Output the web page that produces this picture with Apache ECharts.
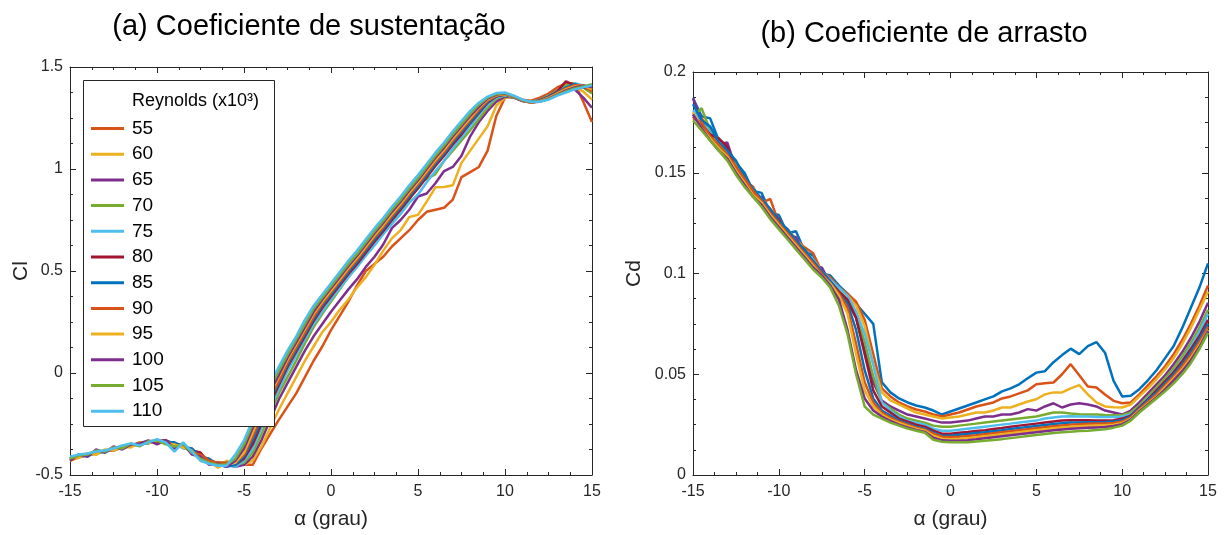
<!DOCTYPE html>
<html><head><meta charset="utf-8">
<script src="https://cdn.jsdelivr.net/npm/echarts@6/dist/echarts.min.js"></script>
<style>html,body{margin:0;padding:0;background:#fff}#c{width:1230px;height:535px}</style>
</head><body><div id="c"></div>
<script>
// angle of attack (deg)
const ALPHA = [-15,-14.5,-14,-13.5,-13,-12.5,-12,-11.5,-11,-10.5,-10,-9.5,-9,-8.5,-8,-7.5,-7,-6.5,-6,-5.5,-5,-4.5,-4,-3.5,-3,-2.5,-2,-1.5,-1,-0.5,0,0.5,1,1.5,2,2.5,3,3.5,4,4.5,5,5.5,6,6.5,7,7.5,8,8.5,9,9.5,10,10.5,11,11.5,12,12.5,13,13.5,14,14.5,15];
const X_TICKS = [-15,-10,-5,0,5,10,15];
const REYNOLDS = ['55','60','65','70','75','80','85','90','95','100','105','110'];

// Lift coefficient Cl
const CL_55 = [-0.42,-0.415,-0.40,-0.39,-0.385,-0.37,-0.365,-0.355,-0.35,-0.34,-0.335,-0.335,-0.345,-0.36,-0.38,-0.40,-0.43,-0.44,
 -0.44,-0.45,-0.45,-0.45,-0.37,-0.30,-0.23,
 -0.165,-0.10,-0.02,0.06,0.13,0.21,0.28,0.35,0.43,0.50,0.535,0.57,0.62,0.66,0.70,0.75,0.79,0.80,0.81,0.85,0.96,0.985,1.01,1.09,1.26,1.35,1.355,1.34,1.335,1.35,1.37,1.40,1.42,1.42,1.33,1.23];
const CL_60 = [-0.43,-0.415,-0.40,-0.40,-0.38,-0.38,-0.365,-0.36,-0.34,-0.345,-0.33,-0.34,-0.345,-0.365,-0.37,-0.41,-0.42,-0.465,
 -0.43,-0.45,-0.45,-0.43,-0.36,-0.27,-0.18,
 -0.10,-0.02,0.06,0.13,0.20,0.25,0.31,0.36,0.42,0.47,0.53,0.60,0.66,0.70,0.765,0.775,0.84,0.91,0.912,0.92,1.03,1.09,1.15,1.21,1.31,1.35,1.35,1.335,1.33,1.34,1.36,1.38,1.41,1.40,1.38,1.34];
const CL_65 = [-0.425,-0.41,-0.405,-0.39,-0.385,-0.37,-0.37,-0.35,-0.35,-0.335,-0.335,-0.33,-0.35,-0.35,-0.385,-0.40,-0.435,-0.455,
 -0.45,-0.46,-0.45,-0.41,-0.33,-0.23,-0.13,
 -0.05,0.03,0.11,0.18,0.24,0.30,0.355,0.41,0.46,0.52,0.57,0.63,0.71,0.75,0.80,0.865,0.88,0.93,0.99,1.01,1.065,1.16,1.23,1.285,1.33,1.355,1.35,1.333,1.33,1.34,1.36,1.385,1.40,1.39,1.35,1.30];
const CL_70 = [-0.42,-0.41,-0.40,-0.395,-0.38,-0.375,-0.36,-0.355,-0.345,-0.34,-0.33,-0.335,-0.355,-0.36,-0.39,-0.405,-0.445,-0.44,
 -0.44,-0.45,-0.44,-0.39,-0.30,-0.20,-0.10,
 -0.02,0.06,0.145,0.225,0.29,0.35,0.41,0.47,0.525,0.58,0.64,0.69,0.745,0.80,0.85,0.93,0.95,0.975,1.04,1.09,1.14,1.19,1.245,1.30,1.345,1.36,1.352,1.335,1.33,1.34,1.36,1.385,1.41,1.42,1.40,1.37];
const CL_75 = [-0.415,-0.405,-0.40,-0.385,-0.385,-0.37,-0.365,-0.35,-0.355,-0.335,-0.34,-0.33,-0.345,-0.37,-0.375,-0.42,-0.43,-0.45,
 -0.45,-0.46,-0.43,-0.37,-0.27,-0.17,-0.08,
 0.01,0.085,0.165,0.24,0.30,0.36,0.415,0.47,0.52,0.575,0.625,0.68,0.73,0.78,0.835,0.875,0.935,0.99,1.04,1.10,1.155,1.21,1.265,1.315,1.35,1.362,1.355,1.336,1.328,1.338,1.357,1.38,1.40,1.42,1.41,1.40];
const CL_80 = [-0.42,-0.41,-0.395,-0.395,-0.38,-0.38,-0.36,-0.36,-0.34,-0.34,-0.335,-0.33,-0.35,-0.355,-0.38,-0.39,-0.44,-0.44,
 -0.45,-0.45,-0.42,-0.35,-0.25,-0.15,-0.06,
 0.03,0.105,0.18,0.255,0.32,0.375,0.43,0.485,0.535,0.59,0.645,0.695,0.75,0.80,0.855,0.905,0.96,1.015,1.065,1.12,1.17,1.225,1.275,1.325,1.355,1.365,1.355,1.335,1.327,1.337,1.355,1.38,1.43,1.41,1.40,1.39];
const CL_85 = [-0.42,-0.40,-0.41,-0.385,-0.39,-0.37,-0.37,-0.355,-0.345,-0.345,-0.33,-0.34,-0.34,-0.36,-0.37,-0.41,-0.42,-0.45,
 -0.46,-0.45,-0.41,-0.33,-0.23,-0.13,-0.05,
 0.04,0.115,0.19,0.265,0.33,0.385,0.44,0.495,0.545,0.60,0.655,0.705,0.76,0.81,0.865,0.915,0.97,1.025,1.075,1.13,1.18,1.23,1.28,1.33,1.358,1.365,1.355,1.335,1.326,1.335,1.352,1.375,1.40,1.415,1.405,1.40];
const CL_90 = [-0.43,-0.41,-0.40,-0.39,-0.38,-0.375,-0.365,-0.35,-0.35,-0.335,-0.34,-0.335,-0.355,-0.35,-0.39,-0.40,-0.43,-0.44,
 -0.44,-0.44,-0.40,-0.31,-0.21,-0.12,-0.04,
 0.05,0.125,0.20,0.275,0.34,0.395,0.45,0.505,0.555,0.61,0.665,0.715,0.77,0.82,0.875,0.925,0.98,1.035,1.085,1.14,1.19,1.24,1.29,1.335,1.36,1.366,1.355,1.335,1.325,1.333,1.35,1.372,1.395,1.41,1.41,1.38];
const CL_95 = [-0.42,-0.415,-0.395,-0.40,-0.375,-0.38,-0.36,-0.365,-0.34,-0.345,-0.33,-0.345,-0.35,-0.365,-0.38,-0.43,-0.44,-0.46,
 -0.45,-0.44,-0.39,-0.29,-0.19,-0.10,-0.02,
 0.065,0.14,0.215,0.29,0.35,0.405,0.46,0.515,0.565,0.62,0.675,0.725,0.78,0.83,0.885,0.935,0.99,1.045,1.095,1.15,1.20,1.25,1.30,1.34,1.362,1.368,1.356,1.336,1.326,1.332,1.348,1.37,1.39,1.405,1.41,1.39];
const CL_100 = [-0.43,-0.40,-0.41,-0.375,-0.39,-0.36,-0.375,-0.35,-0.345,-0.33,-0.35,-0.33,-0.37,-0.345,-0.40,-0.41,-0.45,-0.445,
 -0.46,-0.43,-0.37,-0.27,-0.17,-0.09,-0.01,
 0.075,0.15,0.225,0.30,0.36,0.415,0.47,0.525,0.575,0.63,0.685,0.735,0.79,0.84,0.895,0.945,1.0,1.055,1.105,1.16,1.21,1.26,1.305,1.345,1.365,1.37,1.357,1.337,1.327,1.33,1.345,1.365,1.385,1.40,1.41,1.40];
const CL_105 = [-0.42,-0.405,-0.40,-0.38,-0.385,-0.365,-0.37,-0.345,-0.36,-0.335,-0.33,-0.35,-0.36,-0.35,-0.39,-0.42,-0.44,-0.45,
 -0.45,-0.42,-0.35,-0.25,-0.15,-0.07,0.01,
 0.09,0.165,0.24,0.315,0.37,0.425,0.48,0.535,0.585,0.64,0.695,0.745,0.80,0.85,0.905,0.955,1.01,1.065,1.115,1.17,1.22,1.27,1.315,1.35,1.368,1.372,1.358,1.338,1.328,1.33,1.342,1.362,1.38,1.395,1.405,1.415];
const CL_110 = [-0.41,-0.40,-0.395,-0.385,-0.38,-0.37,-0.355,-0.345,-0.355,-0.34,-0.325,-0.34,-0.385,-0.34,-0.385,-0.43,-0.445,-0.455,
 -0.455,-0.40,-0.33,-0.23,-0.13,-0.05,0.03,
 0.11,0.18,0.26,0.33,0.385,0.44,0.495,0.55,0.60,0.655,0.71,0.76,0.815,0.865,0.92,0.97,1.025,1.08,1.13,1.185,1.235,1.285,1.325,1.355,1.372,1.375,1.36,1.34,1.33,1.33,1.34,1.36,1.375,1.39,1.40,1.41];

// Drag coefficient Cd (12 curves, drawn in the panel's own colour order)
const CD_1 = [0.187,0.178,0.177,0.166,0.162,0.155,0.150,0.141,0.140,0.130,0.129,0.120,0.121,0.111,0.109,0.100,0.099,
 0.094,0.090,0.085,0.080,0.075,0.046,0.041,0.038,0.036,0.0345,0.0335,0.032,0.030,
 0.0315,0.033,0.0345,0.036,0.0375,0.039,0.0415,0.043,0.045,0.048,0.0508,0.0515,0.056,0.0595,0.0627,0.060,0.064,0.066,0.0607,0.0467,0.039,0.0393,0.0426,0.047,0.052,0.058,0.064,0.073,0.083,0.093,0.105];
const CD_2 = [0.178,0.177,0.171,0.164,0.160,0.154,0.146,0.143,0.135,0.137,0.125,0.122,0.117,0.113,0.110,0.101,0.098,
 0.093,0.090,0.086,0.077,0.060,0.043,0.039,0.036,0.034,0.0325,0.0315,0.030,0.029,
 0.030,0.031,0.0325,0.034,0.035,0.036,0.038,0.039,0.0405,0.042,0.045,0.0455,0.0459,0.050,0.055,0.0495,0.0439,0.0434,0.040,0.0368,0.0356,0.036,0.040,0.0445,0.049,0.054,0.060,0.067,0.075,0.084,0.094];
const CD_3 = [0.180,0.173,0.169,0.167,0.158,0.151,0.148,0.140,0.137,0.130,0.127,0.120,0.117,0.112,0.106,0.102,0.096,
 0.092,0.089,0.084,0.074,0.055,0.041,0.037,0.035,0.033,0.031,0.030,0.029,0.028,
 0.0285,0.029,0.030,0.031,0.031,0.032,0.0335,0.0335,0.035,0.0365,0.0376,0.040,0.041,0.041,0.043,0.0446,0.040,0.036,0.034,0.0336,0.0335,0.035,0.039,0.043,0.0475,0.0525,0.058,0.065,0.073,0.082,0.091];
const CD_4 = [0.187,0.176,0.168,0.164,0.165,0.152,0.146,0.138,0.138,0.129,0.126,0.119,0.118,0.109,0.103,0.103,0.095,
 0.090,0.086,0.078,0.062,0.046,0.037,0.034,0.032,0.030,0.029,0.028,0.027,0.026,
 0.026,0.0265,0.027,0.028,0.029,0.029,0.030,0.030,0.031,0.0327,0.032,0.034,0.0356,0.0335,0.035,0.0356,0.035,0.034,0.032,0.031,0.030,0.032,0.036,0.0405,0.045,0.0495,0.055,0.061,0.068,0.076,0.0855];
const CD_5 = [0.178,0.182,0.171,0.163,0.159,0.154,0.145,0.142,0.135,0.131,0.124,0.121,0.115,0.112,0.105,0.100,0.096,
 0.091,0.087,0.080,0.066,0.049,0.036,0.033,0.030,0.028,0.027,0.026,0.0245,0.024,
 0.024,0.0245,0.025,0.0255,0.026,0.0265,0.027,0.0275,0.028,0.0285,0.029,0.030,0.031,0.031,0.0305,0.0302,0.030,0.030,0.0298,0.0297,0.0297,0.031,0.0345,0.039,0.0435,0.048,0.053,0.059,0.0655,0.073,0.082];
const CD_6 = [0.181,0.176,0.170,0.166,0.160,0.152,0.147,0.142,0.137,0.132,0.125,0.122,0.116,0.111,0.107,0.101,0.097,
 0.093,0.089,0.081,0.070,0.055,0.036,0.032,0.029,0.027,0.026,0.025,0.023,0.022,
 0.022,0.0225,0.023,0.0235,0.024,0.0245,0.025,0.0255,0.026,0.0265,0.027,0.028,0.0285,0.029,0.0292,0.029,0.029,0.0288,0.0288,0.0288,0.029,0.030,0.0335,0.038,0.042,0.0465,0.0515,0.057,0.0635,0.071,0.080];
const CD_7 = [0.178,0.174,0.169,0.167,0.163,0.151,0.148,0.140,0.136,0.131,0.127,0.120,0.116,0.110,0.106,0.101,0.096,
 0.091,0.087,0.078,0.060,0.042,0.034,0.031,0.028,0.0265,0.025,0.024,0.022,0.0205,
 0.0205,0.021,0.0213,0.0218,0.0222,0.0228,0.0233,0.024,0.0245,0.025,0.0255,0.026,0.0265,0.027,0.0272,0.0272,0.0272,0.027,0.027,0.0272,0.028,0.0295,0.0335,0.0375,0.042,0.0465,0.051,0.0565,0.0625,0.069,0.077];
const CD_8 = [0.184,0.176,0.173,0.165,0.161,0.156,0.148,0.142,0.137,0.132,0.126,0.122,0.116,0.112,0.106,0.101,0.096,
 0.090,0.085,0.072,0.052,0.038,0.032,0.0295,0.027,0.0255,0.024,0.023,0.021,0.0195,
 0.0195,0.020,0.0203,0.0208,0.0212,0.0217,0.0222,0.0228,0.0233,0.0238,0.0243,0.0248,0.0253,0.0257,0.026,0.026,0.0262,0.0262,0.0263,0.0265,0.0272,0.029,0.033,0.037,0.041,0.0455,0.050,0.055,0.061,0.0675,0.075];
const CD_9 = [0.177,0.175,0.168,0.164,0.159,0.153,0.147,0.141,0.136,0.130,0.125,0.120,0.115,0.110,0.105,0.100,0.095,
 0.090,0.083,0.065,0.046,0.036,0.031,0.0285,0.0265,0.025,0.0235,0.0225,0.0205,0.019,
 0.0188,0.019,0.0193,0.0197,0.0202,0.0207,0.0212,0.0217,0.0222,0.0227,0.0232,0.0237,0.0242,0.0246,0.025,0.0252,0.0254,0.0255,0.0256,0.0258,0.0265,0.0285,0.0325,0.0362,0.040,0.0445,0.049,0.054,0.0595,0.066,0.0735];
const CD_10 = [0.180,0.172,0.167,0.162,0.158,0.151,0.145,0.139,0.135,0.129,0.124,0.119,0.114,0.109,0.104,0.099,0.095,
 0.089,0.080,0.060,0.042,0.034,0.030,0.0275,0.0258,0.0243,0.023,0.022,0.0195,0.018,
 0.0178,0.018,0.0183,0.0187,0.0192,0.0197,0.0202,0.0207,0.0212,0.0217,0.0222,0.0227,0.0232,0.0236,0.024,0.0242,0.0244,0.0245,0.0247,0.025,0.0258,0.028,0.032,0.0355,0.039,0.0435,0.048,0.0525,0.058,0.0645,0.072];
const CD_11 = [0.179,0.172,0.166,0.161,0.157,0.150,0.144,0.138,0.134,0.128,0.123,0.118,0.113,0.108,0.103,0.099,0.094,
 0.087,0.072,0.052,0.038,0.032,0.029,0.0268,0.025,0.0236,0.0224,0.0214,0.0185,0.0172,
 0.017,0.017,0.0173,0.0177,0.0182,0.0187,0.0192,0.0197,0.0202,0.0207,0.0212,0.0217,0.0222,0.0226,0.023,0.0232,0.0234,0.0236,0.0238,0.0243,0.0252,0.0275,0.0315,0.035,0.0385,0.0425,0.047,0.0515,0.057,0.0635,0.0715];
const CD_12 = [0.176,0.171,0.166,0.161,0.156,0.149,0.143,0.138,0.133,0.127,0.122,0.117,0.112,0.107,0.102,0.098,0.093,
 0.084,0.070,0.050,0.034,0.030,0.028,0.026,0.0245,0.023,0.022,0.021,0.0175,0.0165,
 0.0162,0.0162,0.0163,0.0166,0.017,0.0174,0.0178,0.0183,0.0188,0.0193,0.0198,0.0203,0.0208,0.0212,0.0215,0.0218,0.022,0.0223,0.0227,0.0235,0.0245,0.027,0.031,0.0345,0.038,0.0415,0.0455,0.050,0.0555,0.0625,0.0705];

const CL_SERIES = [CL_55,CL_60,CL_65,CL_70,CL_75,CL_80,CL_85,CL_90,CL_95,CL_100,CL_105,CL_110];
const CD_SERIES = [CD_1,CD_2,CD_3,CD_4,CD_5,CD_6,CD_7,CD_8,CD_9,CD_10,CD_11,CD_12];

const PALETTE = ['#0072BD','#D95319','#EDB120','#7E2F8E','#77AC30','#4DBEEE','#A2142F'];
const FONT = '"Liberation Sans", Arial, Helvetica, sans-serif';
const AX = '#262626';

function pairs(arr){ return ALPHA.map((a,i)=>[a, arr[i]]); }

function xAx(grid, top){
  return {
    type:'value', gridIndex:grid, position: top?'top':'bottom', min:-15, max:15, interval:5,
    axisLine:{show:true, onZero:false, lineStyle:{color:AX, width:1}},
    axisTick:{show:true, inside:true, length:6, lineStyle:{color:AX}},
    minorTick:{show:true, splitNumber:4, length:3, lineStyle:{color:AX}},
    splitLine:{show:false}, minorSplitLine:{show:false},
    axisLabel:{show:!top, fontSize:16, color:AX, fontFamily:FONT, margin:9},
    name: top? '' : 'α (grau)', nameLocation:'middle', nameGap:34,
    nameTextStyle:{fontSize:21, color:AX, fontFamily:FONT}
  };
}
function yAx(grid, right, min, max, interval, name, gap){
  return {
    type:'value', gridIndex:grid, position: right?'right':'left', min:min, max:max, interval:interval,
    axisLine:{show:true, onZero:false, lineStyle:{color:AX, width:1}},
    axisTick:{show:true, inside:true, length:6, lineStyle:{color:AX}},
    minorTick:{show:true, splitNumber:4, length:3, lineStyle:{color:AX}},
    splitLine:{show:false}, minorSplitLine:{show:false},
    axisLabel:{show:!right, fontSize:16, color:AX, fontFamily:FONT, margin:7},
    name: right? '' : name, nameLocation:'middle', nameGap:gap, nameRotate:90,
    nameTextStyle:{fontSize:21, color:AX, fontFamily:FONT}
  };
}

const series = [];
CL_SERIES.forEach((arr,i)=>{
  series.push({
    name: REYNOLDS[i], type:'line', xAxisIndex:0, yAxisIndex:0,
    data: pairs(arr), showSymbol:false, symbol:'none', z:2,
    lineStyle:{width:2.5, color:PALETTE[(i+1)%7]}, itemStyle:{color:PALETTE[(i+1)%7]}
  });
});
CD_SERIES.forEach((arr,i)=>{
  series.push({
    name: 'Cd ' + REYNOLDS[i], type:'line', xAxisIndex:2, yAxisIndex:2,
    data: pairs(arr), showSymbol:false, symbol:'none', z:2,
    lineStyle:{width:2.5, color:PALETTE[i%7]}, itemStyle:{color:PALETTE[i%7]}
  });
});

const chart = echarts.init(document.getElementById('c'), null, {renderer:'canvas'});
chart.setOption({
  animation:false,
  backgroundColor:'#fff',
  textStyle:{fontFamily:FONT},
  title:[
    {text:'(a) Coeficiente de sustentação', left:304, top:7, textAlign:'center',
     textStyle:{fontSize:29, fontWeight:'normal', color:'#000', fontFamily:FONT}},
    {text:'(b) Coeficiente de arrasto', left:919, top:14, textAlign:'center',
     textStyle:{fontSize:29, fontWeight:'normal', color:'#000', fontFamily:FONT}}
  ],
  grid:[
    {left:70, top:67, width:522, height:409},
    {left:693, top:72, width:515, height:404}
  ],
  xAxis:[xAx(0,false), xAx(0,true), xAx(1,false), xAx(1,true)],
  yAxis:[
    yAx(0,false,-0.5,1.5,0.5,'Cl',38), yAx(0,true,-0.5,1.5,0.5,'',0),
    yAx(1,false,0,0.2,0.05,'Cd',48), yAx(1,true,0,0.2,0.05,'',0)
  ],
  graphic:[
    {type:'rect', z:100, shape:{x:83.5, y:80.5, width:191, height:346},
     style:{fill:'#fff', stroke:AX, lineWidth:1}},
    {type:'text', z:101, x:132, y:101, style:{text:'Reynolds (x10³)', fontSize:18, fill:'#000',
     fontFamily:FONT, textVerticalAlign:'middle', verticalAlign:'middle'}}
  ],
  legend:{
    data: REYNOLDS, orient:'vertical', left:91, top:119, z:102,
    icon:'rect', itemWidth:33, itemHeight:3, itemGap:6.7, padding:0,
    selectedMode:false,
    textStyle:{fontSize:19, lineHeight:19, color:'#000', fontFamily:FONT, padding:[0,0,0,3]}
  },
  series: series
});
</script>
</body></html>
